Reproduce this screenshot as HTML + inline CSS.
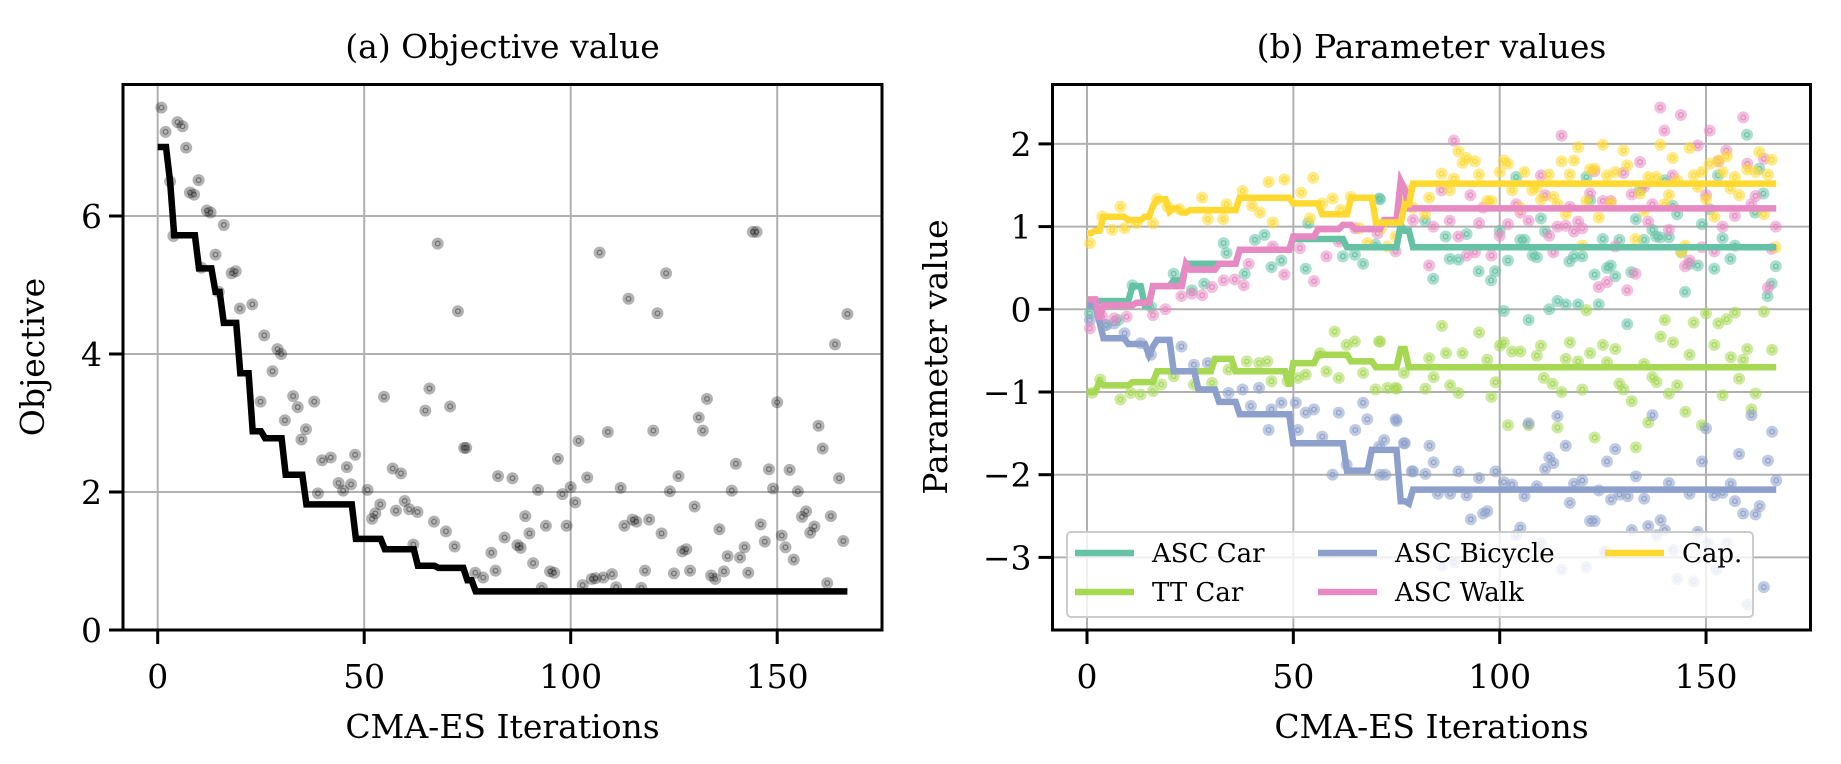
<!DOCTYPE html>
<html><head><meta charset="utf-8"><title>CMA-ES</title>
<style>
html,body{margin:0;padding:0;background:#fff;}
svg{display:block;font-family:"DejaVu Serif","Liberation Serif",serif;}
svg text{font-family:"DejaVu Serif","Liberation Serif",serif;}
</style></head>
<body>
<svg id="fig" width="1841" height="764" viewBox="0 0 1841 764" xmlns="http://www.w3.org/2000/svg">
<defs>
<clipPath id="clipA"><rect x="123" y="84.5" width="759" height="545.5"/></clipPath>
<clipPath id="clipB"><rect x="1052.5" y="84.5" width="758" height="545.5"/></clipPath>
</defs>
<rect width="1841" height="764" fill="#fff"/>
<g id="panelA"></g>
<g id="panelB"></g>
</svg>
<script>
// ---------- Panel (a) data ----------
const objIter = [0.9,1.9,4.8,6.0,6.9,3.0,9.9,7.8,8.8,11.9,12.8,16.0,3.8,14.0,17.9,18.9,10.6,14.8,19.9,22.9,25.8,29.0,29.9,27.8,24.9,32.8,33.9,37.9,30.8,35.9,34.8,39.8,41.9,47.8,45.8,43.8,46.8,44.9,38.8,50.8,54.8,56.9,58.9,53.9,52.7,51.9,57.7,59.8,60.9,62.9,66.9,69.8,71.9,67.8,72.7,65.8,64.8,70.8,74.2,74.7,61.9,76.9,78.8,81.8,80.8,82.4,84.0,85.9,87.1,87.9,89.0,90.0,90.9,92.1,93.0,94.0,95.0,96.0,96.9,98.0,99.0,100,101.1,101.9,102.9,104.0,105.1,106.0,107.0,107.9,109.0,110.0,111.0,112.1,113.0,114.0,115.0,115.9,117.1,118.0,119.0,120.0,121.0,122.0,123.1,124.0,125.0,126.1,127.0,128.0,128.9,130.0,131.0,132.0,133.0,134.0,135.0,136.0,137.1,138.0,139.0,140.0,141.0,142.1,143.0,144.1,145.0,146.0,147.0,148.0,149.0,150.0,151.1,152.0,153.0,154.0,155.0,156.0,157.0,158.0,159.0,160.0,161.0,162.1,163.0,164.0,165.0,166.0,167.0];
const objVal = [7.57,7.22,7.36,7.30,6.99,6.50,6.52,6.34,6.31,6.08,6.05,5.87,5.71,5.44,5.17,5.20,5.25,4.90,4.66,4.72,4.27,4.07,4.00,3.75,3.31,3.39,3.23,3.31,3.04,2.91,2.76,2.46,2.50,2.54,2.36,2.13,2.11,2.02,1.98,2.03,3.38,2.34,2.27,1.82,1.69,1.61,1.73,1.87,1.75,1.71,1.57,1.43,1.21,5.60,4.62,3.50,3.18,3.24,2.64,2.64,1.24,0.83,0.76,0.86,1.12,2.23,1.34,2.20,1.23,1.19,1.65,1.40,0.97,2.03,0.61,1.51,0.85,0.83,2.48,1.97,1.51,2.07,1.85,2.74,0.65,2.21,0.74,0.75,5.47,0.76,2.87,0.81,0.62,2.06,1.51,4.80,1.60,1.57,0.61,0.86,1.60,2.89,4.59,1.40,5.17,2.01,0.82,2.23,1.14,1.17,0.86,1.79,3.08,2.89,3.35,0.79,0.74,1.46,0.85,1.07,2.02,2.41,1.05,1.20,0.83,5.77,5.77,1.53,1.28,2.33,2.05,3.30,1.37,1.20,2.32,1.02,2.01,1.64,1.72,1.41,1.50,2.96,2.63,0.68,1.65,4.14,2.20,1.29,4.58];
const bestStart = [0,3,4,10,14,16,20,23,26,31,36,48,55,63,68,75,77];
const bestVal = [7.0,6.5,5.72,5.24,4.9,4.45,3.72,2.88,2.78,2.25,1.82,1.32,1.17,0.93,0.90,0.72,0.56];
const lastIter = 167;
const xTicksA = [0,50,100,150];
const yTicksA = [0,2,4,6];

// ---------- Panel (b) data ----------
const seriesNames = ["ASC Car","TT Car","ASC Bicycle","ASC Walk","Cap."];
const carIter = [0.7,4.6,7.6,11,15.5,21,25.4,28.4,33.1,33.8,38.2,40.7,43,44.7,47.1,53,53.6,62,64.9,66.9,70.8,69.9,71,81.9,83.9,86.9,87.9,90,92,94.9,97.9,98.9,100,101,102,104,105,106,107,108,109,110,111,112,114,116,116.9,118,119,120,121,121.9,123,124,125,126,126.9,128,129,130.9,131.9,133,134,135,137,137.9,138.9,140,141,141.9,143,144,144.9,146,148,149,150.9,152,152.9,154,155.9,157,159.9,161.9,162.9,163.9,164.9,165.9,166.9];
const carVal = [-0.05,-0.19,-0.13,0.29,0.03,0.43,0.23,0.31,0.80,0.68,0.43,0.84,0.90,0.51,0.59,0.49,1.04,0.64,0.66,0.55,1.34,0.78,1.33,1.07,0.37,0.88,0.61,0.60,0.91,0.46,0.35,0.46,0.95,-0.02,0.59,1.60,0.84,0.84,-0.13,0.65,0.63,1.10,0.94,0.00,0.10,0.06,0.58,0.64,0.06,0.64,1.60,1.32,0.42,0.06,0.85,0.50,0.53,0.40,0.84,-0.18,0.45,1.09,1.44,0.84,0.96,0.88,0.87,1.56,0.87,1.25,1.15,0.69,0.21,0.55,0.53,1.03,1.21,0.49,1.62,0.86,0.61,0.77,2.11,1.17,1.70,1.40,0.16,0.31,0.52];
const ttIter = [1.2,3.2,8.1,10.6,13,16,18,21,25.9,30.3,34.3,38.7,41.7,43.7,44.7,48.6,51.1,53,56.5,58,60,61,62.9,66.9,69.9,72.8,74.8,76.8,70.8,64.9,71,75,82,84,86,87,88,90,91,95,97,98,99,100,101,102,103,105,107,109,110,110.7,112.8,114,115,116,117,119,120,121,121.9,123,125,126,128,129,130,132,133,135,136,137,138,139,140,141,142,143,145,146,147,149,150,152,153,154,155,156,157,158,159,160,161,162,164,166,82.9];
const ttVal = [-1.01,-0.85,-1.09,-1.01,-1.03,-0.99,-0.91,-0.81,-0.91,-0.89,-0.73,-0.63,-0.65,-0.63,-0.87,-0.87,-0.83,-0.79,-0.53,-0.75,-0.27,-0.83,-0.43,-0.77,-0.97,-0.95,-0.95,-0.77,-0.39,-0.39,-0.39,-0.96,-0.96,-0.82,-0.20,-0.53,-0.92,-1.01,-0.53,-0.28,-0.61,-1.06,-0.88,-0.44,-0.40,-1.40,-0.51,-0.51,-1.40,-0.56,-0.44,-0.83,-0.90,-1.43,-1.00,-0.60,-0.40,-0.63,-0.97,-0.01,-0.53,-1.55,-0.43,-0.64,-0.48,-0.90,-0.97,-1.11,-1.67,-0.66,-1.37,-0.82,-0.88,-0.33,-0.13,-1.02,-0.40,-0.92,-1.24,-0.55,-0.16,-1.40,-0.05,-0.43,-0.17,-1.04,-0.12,-0.58,-0.04,-0.84,-0.61,-0.48,-1.21,-1.02,-0.03,-0.49,-0.59];
const bikeIter = [0.7,4.6,6.6,9.1,13,15.5,22.9,25.9,29.3,34.3,37.7,39.7,41.7,44,44.7,47.1,50.6,51.1,53,55,57,59.5,61,62.9,65,66.9,67.9,70.8,72.3,74.8,76.8,78.7,75,72,77,83,84,79,82,71,90,95,99,101,103,106,109,85,88,92,93,96,97,105,107,114,116,112,111,113,117,118,120,121.9,123,124,126,128,127,129,131,133,135,136,137,139,140,141,146,148,149,150,152,154,156,157,158,159,161,162,163,165,166,167,164,160,147,143,142,138,132,125.5,121,115,110,104,86,89,152.5,150.5,155];
const bikeVal = [-0.13,-0.19,-0.17,-0.29,-0.41,-0.55,-0.45,-0.67,-0.65,-1.01,-0.97,-1.17,-0.95,-1.46,-1.21,-1.13,-1.13,-1.46,-1.25,-1.21,-1.54,-2.00,-1.25,-1.88,-1.46,-1.13,-1.33,-1.66,-2.00,-1.33,-1.62,-1.96,-1.35,-1.58,-1.62,-1.65,-1.85,-1.96,-1.99,-2.00,-1.96,-2.04,-1.96,-2.09,-2.12,-2.26,-2.14,-2.23,-2.23,-2.25,-2.54,-2.47,-2.44,-2.64,-1.38,-1.29,-1.65,-1.79,-1.93,-1.86,-2.34,-2.11,-2.07,-2.56,-2.56,-2.19,-1.84,-1.69,-2.30,-2.24,-2.26,-2.02,-2.29,-2.62,-1.28,-2.55,-2.67,-2.10,-2.23,-2.69,-1.84,-1.44,-2.25,-2.22,-2.11,-2.32,-1.75,-2.47,-1.28,-2.48,-2.38,-1.83,-1.48,-2.07,-3.36,-3.57,-3.29,-3.26,-2.91,-2.73,-2.67,-2.93,-3.12,-3.15,-2.83,-2.73,-3.10,-3.06,-3.15,-2.83,-2.83];
const walkIter = [0.7,3.7,6.6,9.6,16,19,22.9,25.4,27.9,30.3,33.1,35.8,38,39.2,45,47.8,51.6,55,58,61,65,70.4,74.8,88.9,79,82.9,83.9,85.9,87.9,90,92,92.9,94,95,96,98,100,102,104,105,107,110,111,112,113,114,115,116,117,118,119,120,121.9,122.9,124,125,126,126.9,128,130,130.9,132,132.9,134,135,136,137,138.9,139.9,141,141.9,143.9,144.9,146,148,149,150,150.9,152,153,154,154.9,157,159,160,161,162,164,165,165.9,166.9];
const walkVal = [-0.23,-0.09,-0.11,-0.09,-0.07,0.00,0.16,0.19,0.17,0.27,0.35,0.36,0.29,0.55,0.76,0.42,0.74,0.34,0.64,0.82,0.98,0.92,0.70,2.04,1.08,0.53,1.00,1.44,1.07,0.88,0.65,1.38,0.69,1.04,1.23,0.65,0.89,1.03,1.27,1.17,1.07,1.62,1.38,0.89,0.69,1.00,2.10,1.01,1.24,0.94,1.06,0.98,1.40,1.67,0.27,1.31,0.33,1.31,0.76,1.65,0.23,1.39,0.43,1.78,1.48,1.06,1.27,2.44,2.16,0.96,1.62,2.35,0.52,0.59,1.98,0.75,1.38,2.16,0.70,1.79,1.00,1.92,1.13,2.32,1.76,1.27,1.37,1.82,0.26,0.73,1.00];
const capIter = [0.7,3.7,6.1,8.1,9.1,12,16,17,19.5,22.4,27.9,29.3,33,33.8,37.7,40,41.9,44,45,47.8,51.9,54.8,54,57,59.5,61.5,63.9,66,68,71.3,72.8,74.8,76.8,77.3,79,81.9,82.9,85.9,87.9,88.9,90,91,92,94,95,97,98,100,101,102,103,105,106,107.9,109,110,111.9,113,114,115,116,117,118,119,120,121,121.9,123,124,125,126,126.9,128,130,130.9,132.9,134,135,136,138,138.9,139.9,141,141.9,143,144,144.9,146,147,148,149,150,150.9,152,153,154,155,155.9,157,158,160,162,162.9,164,165,165.9,166.9];
const capVal = [0.80,1.12,0.96,1.24,0.98,1.04,1.04,1.33,1.24,1.21,1.35,1.09,1.09,1.27,1.43,1.25,1.17,1.54,1.05,1.57,1.41,1.59,1.10,1.28,1.34,1.20,1.36,0.98,0.80,0.98,0.76,0.88,1.30,1.44,1.23,1.15,1.35,1.64,1.44,1.58,1.91,1.77,1.83,1.79,1.63,1.31,1.31,1.66,1.80,1.76,1.44,1.23,1.66,1.44,1.48,1.33,1.63,1.36,1.27,1.79,1.15,1.63,1.80,1.96,0.77,1.31,1.69,1.70,1.11,1.99,1.62,1.29,1.66,1.92,1.74,0.85,1.40,1.19,1.60,1.60,1.99,1.27,1.38,1.83,1.56,0.69,0.77,1.95,1.62,1.48,1.66,1.33,1.76,1.12,1.80,1.66,1.85,1.46,1.60,1.38,1.69,1.66,1.90,1.15,1.63,1.81,0.75];
// best-so-far parameter step values (start iteration, value)
const carStart = [0,3,11,14,16,21,24,37,50,63,76,77,79];
const carBest = [0.07,0.1,0.28,0.05,0.28,0.35,0.55,0.72,0.85,0.75,1.02,0.95,0.75];
const ttStart = [0,3,4,11,17,31,36,49,50,56,64,70,76,78];
const ttBest = [-1.0,-0.88,-0.92,-0.88,-0.75,-0.6,-0.75,-0.93,-0.65,-0.55,-0.63,-0.7,-0.48,-0.7];
const bikeStart = [0,3,4,10,15,16,17,21,27,32,37,50,63,69,76,78,79];
const bikeBest = [0.05,-0.15,-0.35,-0.42,-0.55,-0.45,-0.37,-0.75,-0.97,-1.12,-1.27,-1.62,-1.95,-1.7,-2.32,-2.35,-2.18];
const walkStart = [0,3,4,12,16,24,25,32,37,50,56,62,65,72,76,77,78];
const walkBest = [0.12,-0.12,0.05,0.08,0.28,0.55,0.48,0.55,0.72,0.88,0.97,1.02,0.97,1.08,1.55,1.45,1.22];
const capStart = [0,2,4,10,14,16,17,20,21,23,25,37,50,57,64,70,77,79];
const capBest = [0.92,0.95,1.12,1.08,1.12,1.25,1.33,1.18,1.22,1.17,1.2,1.35,1.28,1.15,1.35,1.05,1.27,1.52];
const xTicksB = [0,50,100,150];
const yTicksB = [-3,-2,-1,0,1,2];

// ---------- helpers ----------
const NS = "http://www.w3.org/2000/svg";
const FONT = '"DejaVu Serif","Liberation Serif",serif';
function mk(tag, attrs, parent){
  const e = document.createElementNS(NS, tag);
  for (const k in attrs) e.setAttribute(k, attrs[k]);
  parent.appendChild(e);
  return e;
}
function txt(s, attrs, parent){ attrs["font-family"] = FONT; const t = mk("text", attrs, parent); t.textContent = s; return t; }
function stepPts(starts, vals, end){
  const pts = [];
  let k = 0;
  for (let i = 0; i <= end; i++){
    while (k + 1 < starts.length && starts[k+1] <= i) k++;
    pts.push([i, vals[k]]);
  }
  return pts;
}
const fmt = v => (v < 0 ? "\u2212" + Math.abs(v) : String(v));

// ---------- Panel A ----------
const A = { l:123, r:882, t:84.5, b:630 };
const xA = v => 157.7 + v * 4.13;
const yA = v => 630 - v * 69;
const gA = document.getElementById("panelA");
(function(){
  const grid = mk("g", {}, gA);
  
  
  xTicksA.forEach(v => { mk("line", {x1:xA(v), x2:xA(v), y1:A.t, y2:A.b, stroke:"#b0b0b0", "stroke-width":2}, grid); });
  yTicksA.forEach(v => { if (v>0) mk("line", {x1:A.l, x2:A.r, y1:yA(v), y2:yA(v), stroke:"#b0b0b0", "stroke-width":2}, grid); });
  const pts = mk("g", {"clip-path":"url(#clipA)"}, gA);
  
  
  objIter.forEach((x, i) => {
    const c = mk("circle", {cx:xA(x), cy:yA(objVal[i]), r:6, fill:"#000", "fill-opacity":0.3}, pts);
    
    
    mk("circle", {cx:xA(x), cy:yA(objVal[i]), r:2.3, fill:"none", stroke:"#000", "stroke-opacity":0.35, "stroke-width":1.3}, pts);
  });
  const sp = stepPts(bestStart, bestVal, lastIter);
  const line = mk("polyline", {points: sp.map(p => xA(p[0]).toFixed(1)+","+yA(p[1]).toFixed(1)).join(" "), fill:"none", stroke:"#000", "stroke-width":6.5, "stroke-linejoin":"miter"}, gA);
  
  
  const fr = mk("rect", {x:A.l, y:A.t, width:A.r-A.l, height:A.b-A.t, fill:"none", stroke:"#000", "stroke-width":3}, gA);
  
  
  xTicksA.forEach(v => {
    mk("line", {x1:xA(v), x2:xA(v), y1:A.b, y2:A.b+14, stroke:"#000", "stroke-width":3}, gA);
    const t = txt(String(v), {x:xA(v), y:688, "font-size":33, "text-anchor":"middle"}, gA);
    
    
  });
  yTicksA.forEach(v => {
    mk("line", {x1:A.l-14, x2:A.l, y1:yA(v), y2:yA(v), stroke:"#000", "stroke-width":3}, gA);
    const t = txt(String(v), {x:A.l-21, y:yA(v)+12, "font-size":33, "text-anchor":"end"}, gA);
    
    
  });
  const ti = txt("(a) Objective value", {x:(A.l+A.r)/2, y:58, "font-size":33, "text-anchor":"middle"}, gA);
  
  
  const xl = txt("CMA-ES Iterations", {x:(A.l+A.r)/2, y:738, "font-size":33, "text-anchor":"middle"}, gA);
  
  
  const yl = txt("Objective", {x:0, y:0, "font-size":33, "text-anchor":"middle", transform:"translate(44,357) rotate(-90)"}, gA);
  
  
})();

// ---------- Panel B ----------
const B = { l:1052.5, r:1810.5, t:84.5, b:630 };
const xB = v => 1087 + v * 4.127;
const yB = v => 309.3 - v * 82.7;
const gB = document.getElementById("panelB");
const colors = ["#66c2a5","#a6d854","#8da0cb","#e78ac3","#ffd92f"];
const iters = [carIter, ttIter, bikeIter, walkIter, capIter];
const vals = [carVal, ttVal, bikeVal, walkVal, capVal];
const starts = [carStart, ttStart, bikeStart, walkStart, capStart];
const bests = [carBest, ttBest, bikeBest, walkBest, capBest];
const slugs = ["asc-car","tt-car","asc-bicycle","asc-walk","cap"];
(function(){
  const grid = mk("g", {}, gB);
  
  
  xTicksB.forEach(v => { mk("line", {x1:xB(v), x2:xB(v), y1:B.t, y2:B.b, stroke:"#b0b0b0", "stroke-width":2}, grid); });
  yTicksB.forEach(v => { mk("line", {x1:B.l, x2:B.r, y1:yB(v), y2:yB(v), stroke:"#b0b0b0", "stroke-width":2}, grid); });
  const pts = mk("g", {"clip-path":"url(#clipB)"}, gB);
  
  
  for (let s = 0; s < 5; s++){
    iters[s].forEach((x, i) => {
      const c = mk("circle", {cx:xB(x), cy:yB(vals[s][i]), r:6, fill:colors[s], "fill-opacity":0.55}, pts);
      
      
      mk("circle", {cx:xB(x), cy:yB(vals[s][i]), r:2.3, fill:"none", stroke:colors[s], "stroke-opacity":0.9, "stroke-width":1.3}, pts);
    });
  }
  const lines = mk("g", {"clip-path":"url(#clipB)"}, gB);
  for (let s = 0; s < 5; s++){
    const sp = stepPts(starts[s], bests[s], lastIter);
    const l = mk("polyline", {points: sp.map(p => xB(p[0]).toFixed(1)+","+yB(p[1]).toFixed(1)).join(" "), fill:"none", stroke:colors[s], "stroke-width":6.5}, lines);
    
    
  }
  const fr = mk("rect", {x:B.l, y:B.t, width:B.r-B.l, height:B.b-B.t, fill:"none", stroke:"#000", "stroke-width":3}, gB);
  
  
  xTicksB.forEach(v => {
    mk("line", {x1:xB(v), x2:xB(v), y1:B.b, y2:B.b+14, stroke:"#000", "stroke-width":3}, gB);
    const t = txt(String(v), {x:xB(v), y:688, "font-size":33, "text-anchor":"middle"}, gB);
    
    
  });
  yTicksB.forEach(v => {
    mk("line", {x1:B.l-14, x2:B.l, y1:yB(v), y2:yB(v), stroke:"#000", "stroke-width":3}, gB);
    const t = txt(fmt(v), {x:B.l-21, y:yB(v)+12, "font-size":33, "text-anchor":"end"}, gB);
    
    
  });
  const ti = txt("(b) Parameter values", {x:(B.l+B.r)/2, y:58, "font-size":33, "text-anchor":"middle"}, gB);
  
  
  const xl = txt("CMA-ES Iterations", {x:(B.l+B.r)/2, y:738, "font-size":33, "text-anchor":"middle"}, gB);
  
  
  const yl = txt("Parameter value", {x:0, y:0, "font-size":33, "text-anchor":"middle", transform:"translate(947,357) rotate(-90)"}, gB);
  
  

  // legend
  const lg = mk("g", {}, gB);
  
  
  mk("rect", {x:1067, y:532, width:686, height:85, rx:4, fill:"#fff", "fill-opacity":0.8, stroke:"#cccccc", "stroke-width":2}, lg);
  const pos = [[1075,553],[1075,592],[1318,553],[1318,592],[1605,553]];
  for (let s = 0; s < 5; s++){
    const [lx, ly] = pos[s];
    const e = mk("g", {}, lg);
    
    
    mk("line", {x1:lx, x2:lx+59, y1:ly, y2:ly, stroke:colors[s], "stroke-width":6.5}, e);
    txt(seriesNames[s], {x:lx+77, y:ly+9, "font-size":26}, e);
  }
})();
</script>
</body></html>
